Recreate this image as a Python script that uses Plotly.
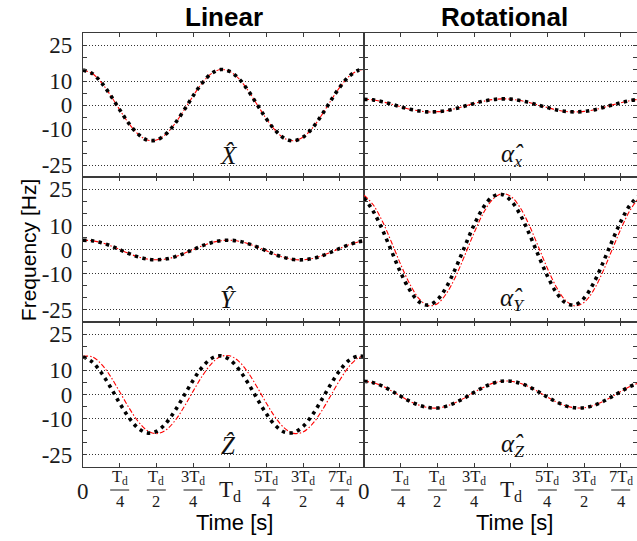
import plotly.graph_objects as go
from plotly.subplots import make_subplots

# ---------------- data (time in units of Td) ----------------
t = [0.0, 0.0625, 0.125, 0.1875, 0.25, 0.3125, 0.375, 0.4375, 0.5, 0.5625,
     0.625, 0.6875, 0.75, 0.8125, 0.875, 0.9375, 1.0, 1.0625, 1.125, 1.1875,
     1.25, 1.3125, 1.375, 1.4375, 1.5, 1.5625, 1.625, 1.6875, 1.75, 1.8125,
     1.875, 1.91]

x_hat = [14.6, 13.2, 9.4, 4.1, -1.9, -7.6, -12.0, -14.5, -14.5, -12.2,
         -7.8, -2.2, 3.8, 9.2, 13.1, 14.8, 14.0, 11.0, 6.1, 0.2,
         -5.7, -10.6, -13.9, -14.8, -13.3, -9.6, -4.3, 1.7, 7.4, 11.9,
         14.4, 14.8]

y_hat = [3.9, 3.7, 2.9, 1.6, 0.0, -1.6, -3.0, -3.9, -4.2, -3.9,
         -3.0, -1.6, 0.0, 1.6, 2.9, 3.7, 3.9, 3.5, 2.5, 1.1,
         -0.5, -2.1, -3.3, -4.1, -4.2, -3.7, -2.6, -1.1, 0.5, 2.0,
         3.2, 3.6]

z_hat_red = [15.8, 15.6, 12.6, 7.5, 1.1, -5.4, -11.1, -14.9, -16.2, -14.8,
             -11.0, -5.3, 1.3, 7.6, 12.7, 15.7, 16.0, 13.7, 9.1, 3.0,
             -3.6, -9.6, -14.0, -16.1, -15.5, -12.3, -7.0, -0.6, 5.9, 11.5,
             15.1, 15.8]

z_hat_black = [15.6, 13.5, 9.0, 3.0, -3.6, -9.5, -13.9, -15.9, -15.3, -12.1,
               -6.9, -0.6, 5.8, 11.3, 14.9, 16.0, 14.4, 10.4, 4.7, -1.8,
               -8.0, -12.9, -15.6, -15.7, -13.2, -8.5, -2.4, 4.1, 9.9, 14.1,
               15.9, 15.8]

ax_hat = [2.4, 2.2, 1.4, 0.4, -0.7, -1.7, -2.4, -2.8, -2.7, -2.3,
          -1.4, -0.4, 0.7, 1.6, 2.3, 2.6, 2.5, 1.9, 1.1, 0.0,
          -1.0, -2.0, -2.6, -2.8, -2.6, -2.0, -1.1, 0.0, 1.0, 1.9,
          2.4, 2.6]

ay_hat_red = [22.6, 18.6, 11.8, 3.1, -6.1, -14.3, -20.3, -23.2, -22.4, -18.1,
              -11.1, -2.3, 6.9, 15.0, 20.7, 23.2, 22.1, 17.6, 10.3, 1.4,
              -7.7, -15.6, -21.1, -23.3, -21.9, -17.1, -9.6, -0.6, 8.4, 16.2,
              21.4, 22.9]

ay_hat_black = [21.5, 16.0, 8.3, -0.6, -9.5, -16.8, -21.6, -23.0, -20.8, -15.4,
                -7.6, 1.4, 10.2, 17.4, 21.9, 22.9, 20.4, 14.8, 6.8, -2.2,
                -10.9, -17.9, -22.1, -22.9, -20.1, -14.2, -6.0, 3.0, 11.6, 18.4,
                22.3, 23.0]

az_hat = [5.5, 4.9, 3.5, 1.5, -0.7, -2.8, -4.4, -5.4, -5.6, -4.8,
          -3.3, -1.4, 0.9, 2.9, 4.6, 5.5, 5.5, 4.7, 3.2, 1.2,
          -1.1, -3.1, -4.7, -5.5, -5.5, -4.6, -3.0, -1.0, 1.2, 3.3,
          4.8, 5.3]

y_major = [-25, -10, 0, 10, 25]
y_major_text = ["-25", "-10", "0", "10", "25"]
y_minor = [-20, -15, -5, 5, 15, 20]

x_ticks = [0, 0.25, 0.5, 0.75, 1.0, 1.25, 1.5, 1.75]
x_plain = ["0", "", "", "", "T<sub>d</sub>", "", "", ""]
x_num = ["", "T<sub>d</sub>", "T<sub>d</sub>", "3T<sub>d</sub>", "",
         "5T<sub>d</sub>", "3T<sub>d</sub>", "7T<sub>d</sub>"]
x_den = ["", "4", "2", "4", "", "4", "2", "4"]

col_titles = ["Linear", "Rotational"]
panel_labels = ["<i>X\u0302</i>", "<i>\u03b1\u0302<sub>x</sub></i>",
                "<i>Y\u0302</i>", "<i>\u03b1\u0302<sub>Y</sub></i>",
                "<i>Z\u0302</i>", "<i>\u03b1\u0302<sub>Z</sub></i>"]
red_series = [x_hat, ax_hat, y_hat, ay_hat_red, z_hat_red, az_hat]
black_series = [x_hat, ax_hat, y_hat, ay_hat_black, z_hat_black, az_hat]

# ---------------- figure ----------------
W, H = 637, 541
ML, MR, MT, MB = 83, 0, 33, 74
PW, PH = W - ML - MR, H - MT - MB

fig = make_subplots(rows=3, cols=2)

col_dom = [[0, 280.5 / PW], [281.0 / PW, 1.0]]
row_dom = [[0.6675, 1.0], [0.3341, 0.6675], [0.0, 0.3341]]
x_range = [[0, 1.912], [0, 1.861]]

AX = "#3a3a3a"
TXT = "#1a1a1a"
serif = "Liberation Serif"
sans = "Liberation Sans"

for i in range(6):
    r, c = i // 2, i % 2
    fig.add_trace(go.Scatter(x=t, y=red_series[i], mode="lines",
                             line=dict(color="#ff0000", width=1.1, dash="5px,2px,1.5px,2px",
                                       shape="spline"),
                             showlegend=False, hoverinfo="skip"), row=r + 1, col=c + 1)
    fig.add_trace(go.Scatter(x=t, y=black_series[i], mode="lines",
                             line=dict(color="#000000", width=3.6, dash="3.4px,4.4px",
                                       shape="spline"),
                             showlegend=False, hoverinfo="skip"), row=r + 1, col=c + 1)
    xa = "xaxis" if i == 0 else f"xaxis{i + 1}"
    ya = "yaxis" if i == 0 else f"yaxis{i + 1}"
    fig.layout[xa].update(domain=col_dom[c], range=x_range[c], showline=True,
                          mirror="ticks", linecolor=AX, linewidth=1.2,
                          ticks="inside", ticklen=4, tickcolor=AX, tickwidth=1,
                          tickvals=x_ticks, showticklabels=False, showgrid=False,
                          zeroline=False)
    fig.layout[ya].update(domain=row_dom[r], range=[-30, 30], showline=True,
                          mirror="ticks", linecolor=AX, linewidth=1.2,
                          ticks="inside", ticklen=4, tickcolor=AX, tickwidth=1,
                          tickvals=y_major, ticktext=y_major_text,
                          showticklabels=(c == 0), ticklabelstandoff=5,
                          tickfont=dict(family=serif, size=23, color=TXT),
                          showgrid=True, gridcolor="#333333", gridwidth=1,
                          griddash="1px,2px", zeroline=False,
                          minor=dict(tickvals=y_minor, ticks="inside", ticklen=4,
                                     tickcolor=AX, showgrid=False))
    xref = "x" if i == 0 else f"x{i + 1}"
    yref = "y" if i == 0 else f"y{i + 1}"
    lx = 0.995 if c == 0 else 1.01
    ly = -21.0 if r == 0 else (-20.5 if r == 1 else -21.0)
    fig.add_annotation(x=lx, y=ly, xref=xref, yref=yref, text=panel_labels[i],
                       showarrow=False, xanchor="center", yanchor="middle",
                       font=dict(family=serif, size=25, color="#111"))

# x tick labels on the bottom row
for c, xref in enumerate(["x5", "x6"]):
    d0, d1 = col_dom[c]
    for k, v in enumerate(x_ticks):
        if x_plain[k]:
            fig.add_annotation(x=v, y=0, xref=xref, yref="paper", text=x_plain[k],
                               showarrow=False, xanchor="center", yanchor="middle",
                               yshift=-24,
                               font=dict(family=serif, size=23, color=TXT))
        else:
            fig.add_annotation(x=v, y=0, xref=xref, yref="paper", text=x_num[k],
                               showarrow=False, xanchor="center", yanchor="bottom",
                               yshift=-22, font=dict(family=serif, size=16.5, color=TXT))
            fig.add_annotation(x=v, y=0, xref=xref, yref="paper", text=x_den[k],
                               showarrow=False, xanchor="center", yanchor="top",
                               yshift=-23, font=dict(family=serif, size=16.5, color=TXT))
            half = 9.5 if len(x_num[k]) < 15 else 15.5
            px = d0 + v / x_range[c][1] * (d1 - d0)
            fig.add_shape(type="line", xref="paper", xsizemode="pixel", xanchor=px,
                          x0=-half, x1=half, yref="paper", ysizemode="pixel",
                          yanchor=0, y0=-23, y1=-23,
                          line=dict(color=TXT, width=1))
    fig.add_annotation(x=[0.2726, 0.778][c], y=-0.127, xref="paper", yref="paper",
                       text="Time [s]", showarrow=False, xanchor="center",
                       yanchor="middle", font=dict(family=sans, size=22, color="#000"))
    fig.add_annotation(x=[0.2545, 0.76][c], y=1.038, xref="paper", yref="paper",
                       text=f"<b>{col_titles[c]}</b>", showarrow=False,
                       xanchor="center", yanchor="middle",
                       font=dict(family=sans, size=26, color="#000"))

fig.add_annotation(x=-0.099, y=0.5, xref="paper", yref="paper", text="Frequency [Hz]",
                   textangle=-90, showarrow=False, xanchor="center", yanchor="middle",
                   font=dict(family=sans, size=21, color="#000"))

fig.update_layout(width=W, height=H, margin=dict(l=ML, r=MR, t=MT, b=MB),
                  paper_bgcolor="white", plot_bgcolor="white", showlegend=False)

fig.write_html("out.html")
